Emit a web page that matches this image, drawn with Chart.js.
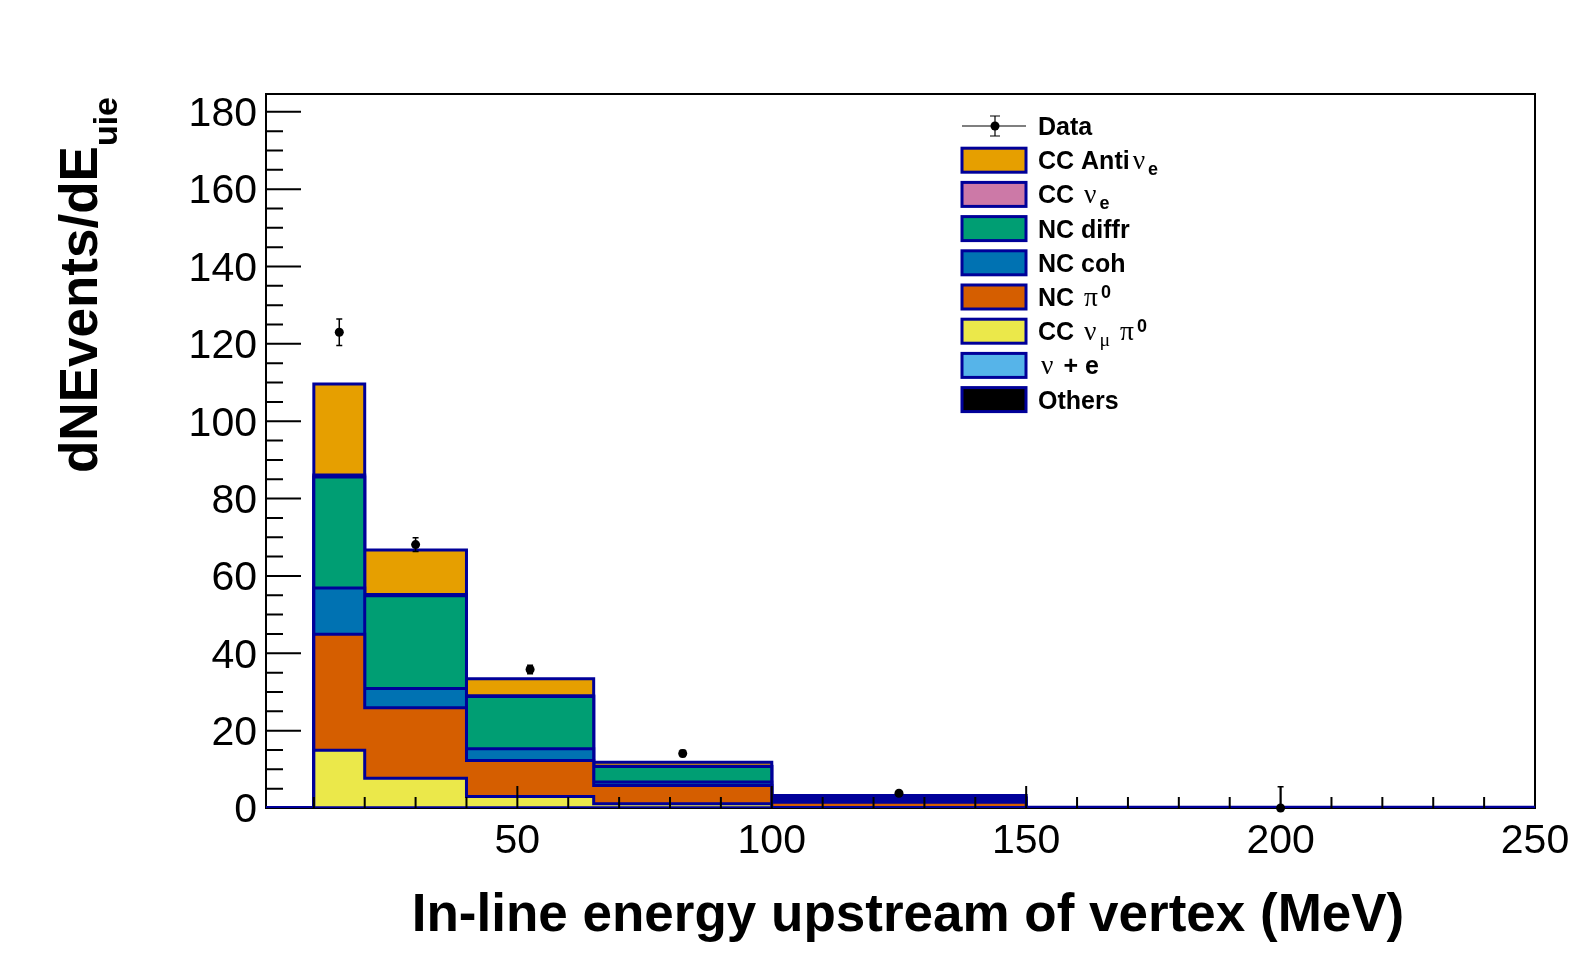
<!DOCTYPE html>
<html>
<head>
<meta charset="utf-8">
<script src="https://cdn.jsdelivr.net/npm/chart.js@4.4.1/dist/chart.umd.min.js"></script>
<style>
  html, body { margin: 0; padding: 0; background: #fff; }
  #wrap { width: 1596px; height: 972px; }
</style>
</head>
<body>
<div id="wrap"><canvas id="c" width="1596" height="972"></canvas></div>
<script>
// ── Binning / axes ────────────────────────────────────────────────
const BIN_EDGES = [10, 20, 40, 65, 100, 150, 250];
const X_MIN = 0.6, X_MAX = 250;
const Y_MIN = 0, Y_MAX = 184.6;
const X_TICKS = [50, 100, 150, 200, 250];
const Y_TICKS = [0, 20, 40, 60, 80, 100, 120, 140, 160, 180];

// ── Stack components, bottom to top (events per bin) ─────────────
const OTHERS      = [0, 0, 0, 0, 0, 0];
const NU_E_SCAT   = [0, 0, 0, 0, 0, 0];
const CC_NUMU_PI0 = [14.9, 7.7, 3.0, 1.1, 0.1, 0.0];
const NC_PI0      = [30.0, 18.2, 9.3, 4.7, 1.4, 0.1];
const NC_COH      = [12.0, 5.0, 3.0, 0.9, 0.5, 0.0];
const NC_DIFFR    = [28.7, 24.0, 13.5, 4.0, 0.6, 0.0];
const CC_NUE      = [0.5, 0.3, 0.2, 0.1, 0.0, 0.0];
const CC_ANTI_NUE = [23.5, 11.5, 4.4, 1.0, 0.6, 0.1];

// ── Data points ───────────────────────────────────────────────────
const DATA_X   = [15, 30, 52.5, 82.5, 125, 200];
const DATA_Y   = [123.0, 68.1, 35.8, 14.1, 3.8, 0];
const DATA_ERR = [3.4, 1.8, 1.1, 0.8, 0.5, 5.5];

const LINE_COL = "#000099";
const COMPONENTS = [
  { tex: "Others",           color: "#000000", values: OTHERS },
  { tex: "#nu + e",          color: "#56b4e9", values: NU_E_SCAT },
  { tex: "CC #nu_{#mu} #pi^{0}", color: "#ebe84a", values: CC_NUMU_PI0 },
  { tex: "NC #pi^{0}",       color: "#d55e00", values: NC_PI0 },
  { tex: "NC coh",           color: "#0072b2", values: NC_COH },
  { tex: "NC diffr",         color: "#009e73", values: NC_DIFFR },
  { tex: "CC #nu_{e}",       color: "#cc79a7", values: CC_NUE },
  { tex: "CC Anti#nu_{e}",   color: "#e69f00", values: CC_ANTI_NUE },
];

// cumulative sums -> step outlines
function stepPoints(cum) {
  const pts = [{ x: X_MIN, y: 0 }];
  cum.forEach((v, i) => pts.push({ x: BIN_EDGES[i], y: v }));
  pts.push({ x: BIN_EDGES[BIN_EDGES.length - 1], y: cum[cum.length - 1] });
  pts.push({ x: BIN_EDGES[BIN_EDGES.length - 1], y: 0 });
  return pts;
}
let run = CC_NUE.map(() => 0);
const histSets = COMPONENTS.map((c, k) => {
  run = run.map((v, i) => v + c.values[i]);
  return {
    data: stepPoints(run.slice()),
    stepped: "before",
    fill: "origin",
    backgroundColor: c.color,
    borderColor: LINE_COL,
    borderWidth: 3,
    borderJoinStyle: "miter",
    pointRadius: 0,
    order: k
  };
});

// ── tiny ROOT-latex renderer: #nu, #mu, #pi, _{..}, ^{..} ─────────
const GREEK = { nu: "ν", mu: "μ", pi: "π" };
function pushRuns(str, level, out) {
  str.split(/(#[a-z]+)/).forEach(p => {
    if (!p) return;
    if (p[0] === "#") out.push({ t: GREEK[p.slice(1)], greek: true, level });
    else out.push({ t: p, greek: false, level });
  });
}
function parseTex(s) {
  const out = [], re = /([_^])\{([^}]*)\}/g;
  let last = 0, m;
  while ((m = re.exec(s))) {
    pushRuns(s.slice(last, m.index), 0, out);
    pushRuns(m[2], m[1] === "_" ? 1 : -1, out);
    last = re.lastIndex;
  }
  pushRuns(s.slice(last), 0, out);
  return out;
}
function drawTex(ctx, s, x, y, o) {
  parseTex(s).forEach(r => {
    let sz = r.level ? o.small : o.size;
    if (r.greek) sz *= 1.1;
    ctx.font = r.greek ? `${sz}px "Liberation Serif"` : `bold ${sz}px "Liberation Sans"`;
    const dy = r.level === 1 ? o.subDy : r.level === -1 ? o.supDy : 0;
    const pad = r.greek && !r.level ? 3 : 0;
    ctx.fillText(r.t, x + pad, y + dy);
    x += ctx.measureText(r.t).width + 2 * pad;
  });
  return x;
}

// ── frame, inner ticks, error bars, legend, titles ────────────────
const rootDecor = {
  id: "rootDecor",
  beforeDatasetsDraw(chart) {
    const { ctx, chartArea: a } = chart;
    ctx.save();
    ctx.strokeStyle = "#000"; ctx.lineWidth = 2;
    ctx.strokeRect(a.left, a.top, a.right - a.left, a.bottom - a.top);
    ctx.restore();
  },
  afterDatasetsDraw(chart) {
    const { ctx, chartArea: a, scales: { x, y } } = chart;
    ctx.save();
    ctx.strokeStyle = "#000"; ctx.lineWidth = 2;
    ctx.beginPath();
    for (let v = 5; v <= 180; v += 5) {
      const py = y.getPixelForValue(v);
      ctx.moveTo(a.left, py); ctx.lineTo(a.left + (v % 20 === 0 ? 35 : 17), py);
    }
    for (let v = 10; v < 250; v += 10) {
      const px = x.getPixelForValue(v);
      ctx.moveTo(px, a.bottom); ctx.lineTo(px, a.bottom - (v % 50 === 0 ? 22 : 11));
    }
    ctx.stroke();
    // data error bars
    ctx.lineWidth = 1.5;
    ctx.beginPath();
    DATA_X.forEach((dx, i) => {
      const px = x.getPixelForValue(dx);
      const lo = y.getPixelForValue(Math.max(0, DATA_Y[i] - DATA_ERR[i]));
      const hi = y.getPixelForValue(DATA_Y[i] + DATA_ERR[i]);
      ctx.moveTo(px, lo); ctx.lineTo(px, hi);
      ctx.moveTo(px - 3, hi); ctx.lineTo(px + 3, hi);
      if (DATA_Y[i] - DATA_ERR[i] > 0) { ctx.moveTo(px - 3, lo); ctx.lineTo(px + 3, lo); }
    });
    ctx.stroke();
    ctx.restore();
  },
  afterDraw(chart) {
    const ctx = chart.ctx;
    ctx.save();
    ctx.fillStyle = "#000";
    ctx.textBaseline = "alphabetic";
    ctx.textAlign = "left";

    // legend
    const LX = 962, LW = 64, BH = 24, TX = 1038, ROW0 = 126, PITCH = 34.2;
    const lo = { size: 25, small: 18, subDy: 6, supDy: -8 };
    ctx.strokeStyle = "#000"; ctx.lineWidth = 1.2;
    ctx.beginPath();
    ctx.moveTo(LX, ROW0); ctx.lineTo(LX + LW, ROW0);
    ctx.moveTo(LX + 33, ROW0 - 10); ctx.lineTo(LX + 33, ROW0 + 10);
    ctx.moveTo(LX + 28, ROW0 - 10); ctx.lineTo(LX + 38, ROW0 - 10);
    ctx.moveTo(LX + 28, ROW0 + 10); ctx.lineTo(LX + 38, ROW0 + 10);
    ctx.stroke();
    ctx.beginPath(); ctx.arc(LX + 33, ROW0, 4.5, 0, Math.PI * 2); ctx.fill();
    drawTex(ctx, "Data", TX, ROW0 + 9, lo);
    COMPONENTS.slice().reverse().forEach((c, i) => {
      const cy = ROW0 + PITCH * (i + 1);
      ctx.fillStyle = c.color;
      ctx.fillRect(LX, cy - BH / 2, LW, BH);
      ctx.strokeStyle = LINE_COL; ctx.lineWidth = 3;
      ctx.strokeRect(LX, cy - BH / 2, LW, BH);
      ctx.fillStyle = "#000";
      drawTex(ctx, c.tex, TX, cy + 9, lo);
    });

    // x title
    ctx.font = 'bold 53px "Liberation Sans"';
    ctx.textAlign = "center";
    ctx.fillText("In-line energy upstream of vertex (MeV)", 908, 931);

    // y title
    ctx.textAlign = "left";
    ctx.translate(97, 473);
    ctx.rotate(-Math.PI / 2);
    drawTex(ctx, "dNEvents/dE_{uie}", 0, 0, { size: 53, small: 34, subDy: 20, supDy: -20 });
    ctx.restore();
  }
};

new Chart(document.getElementById("c"), {
  type: "line",
  data: {
    datasets: [
      ...histSets,
      {
        data: DATA_X.map((x, i) => ({ x, y: DATA_Y[i] })),
        showLine: false,
        pointRadius: 4.5,
        pointBackgroundColor: "#000",
        pointBorderWidth: 0,
        clip: false,
        order: -1
      }
    ]
  },
  options: {
    responsive: false,
    animation: false,
    devicePixelRatio: 1,
    layout: { padding: { left: 0, top: 94, right: 61, bottom: 0 } },
    plugins: { legend: { display: false }, tooltip: { enabled: false } },
    scales: {
      x: {
        type: "linear", min: X_MIN, max: X_MAX,
        grid: { display: false, drawTicks: false },
        border: { display: false },
        afterBuildTicks: s => { s.ticks = X_TICKS.map(v => ({ value: v })); },
        afterFit: s => { s.height = 164; },
        ticks: { autoSkip: false, maxRotation: 0, padding: 9, color: "#000",
                 font: { family: "Liberation Sans", size: 41 } }
      },
      y: {
        type: "linear", min: Y_MIN, max: Y_MAX,
        grid: { display: false, drawTicks: false },
        border: { display: false },
        afterBuildTicks: s => { s.ticks = Y_TICKS.map(v => ({ value: v })); },
        afterFit: s => { s.width = 266; },
        ticks: { padding: 9, labelOffset: 3, color: "#000",
                 font: { family: "Liberation Sans", size: 41 } }
      }
    }
  },
  plugins: [rootDecor]
});
</script>
</body>
</html>
